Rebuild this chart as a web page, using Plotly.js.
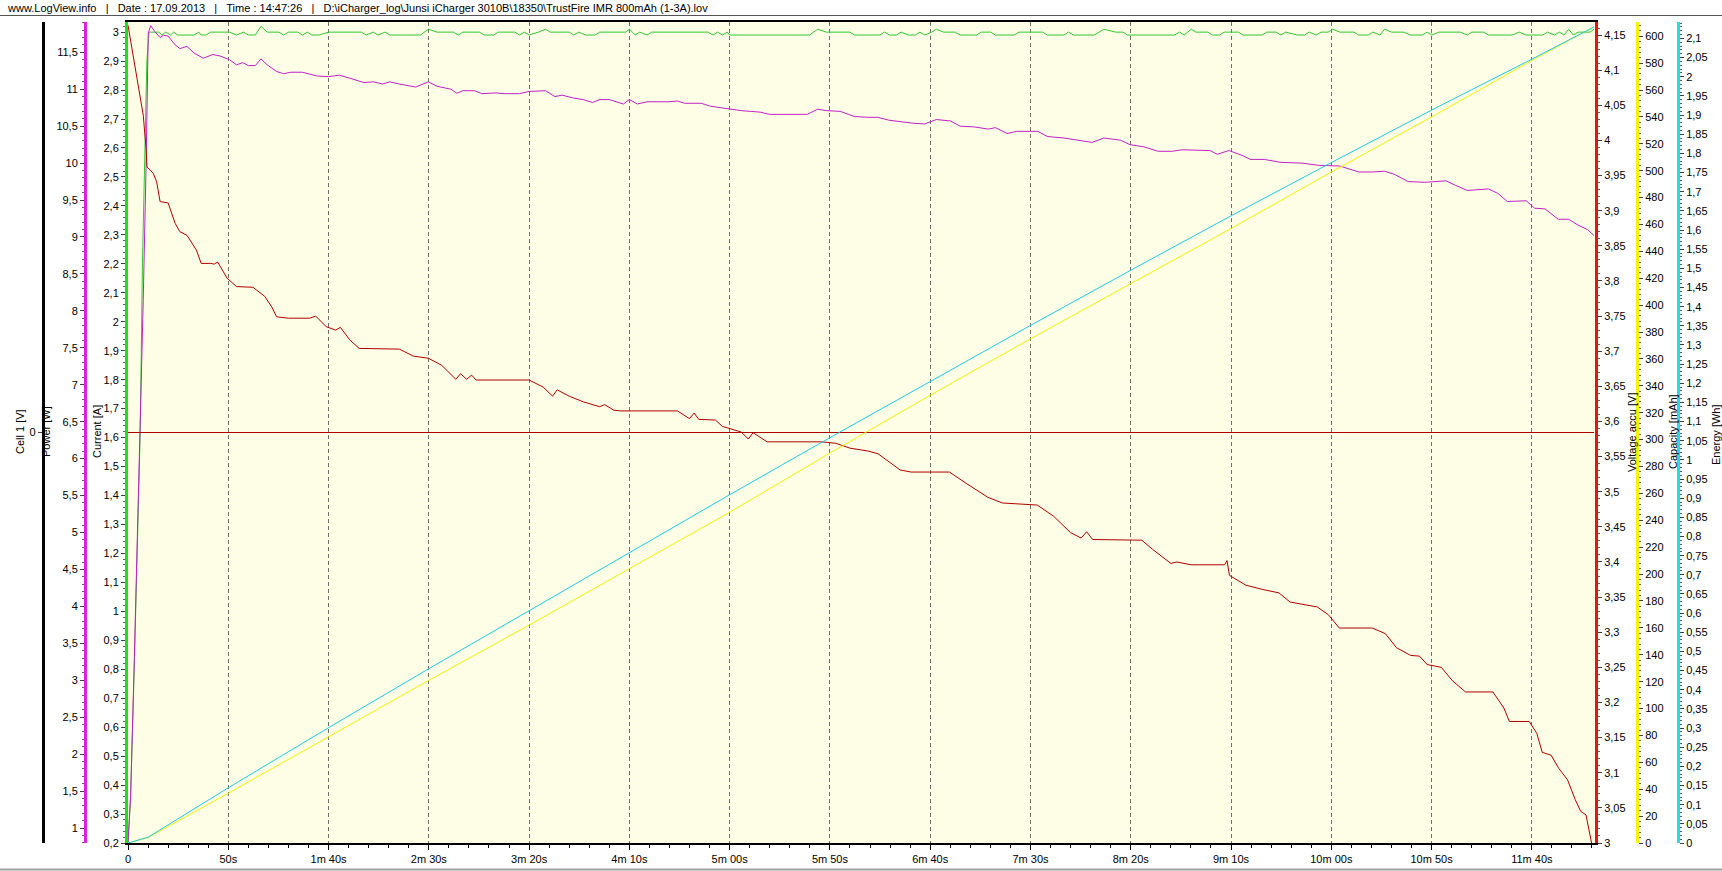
<!DOCTYPE html>
<html><head><meta charset="utf-8">
<script src="https://cdn.plot.ly/plotly-3.0.1.min.js"></script>
<style>html,body{margin:0;padding:0;background:#fff;overflow:hidden}#chart{width:1722px;height:871px}</style>
</head><body><div id="chart"></div>
<script>
const timeTicks = [0,50,100,150,200,250,300,350,400,450,500,550,600,650,700];
const timeLabels = ['0','50s','1m 40s','2m 30s','3m 20s','4m 10s','5m 00s','5m 50s','6m 40s','7m 30s','8m 20s','9m 10s','10m 00s','10m 50s','11m 40s'];

const currentT = [
0,1.3,3.1,4.8,6.1,7.2,8.3,9.4,10.5,11.3,
15.3,16.9,18.8,21.2,22.8,24.7,32.9,35.3,36.5,38.8,
41.2,50.6,54.1,57.6,60,63.5,66.3,69.4,75.3,77.6,
80,84.7,87,89.4,91.7,95.3,100,116.4,118.8,122.3,
124.7,128.2,130.6,145.8,149.8,154.1,162.3,164.7,167,175.3,
177.6,182.3,184.7,192.9,195.2,197.6,200,204.7,208.2,210.5,
220,222.3,224.7,228.2,232.9,235.2,248.2,250.1,252.9,255.2,
258.8,261.1,289.3,291.7,294,296.4,298.8,299.9,339.9,343.9,
348.2,359.9,362.3,374.9,377.3,379.6,383.1,385.5,389,392.6,
394.9,397.3,400.8,403.1,406.7,412.5,414.9,423.1,425.5,430.2,
432.5,442,444.3,456.1,458.4,466.7,469,471.4,481.9,486.6,
492.5,496.1,498.4,521.9,524.3,526.6,530.2,532.5,538.4,540.8,
544.3,546.6,553.7,556,565.5,567.8,572.5,574.9,577.2,583.1,
586.6,589,592.5,594.9,598.4,600.7,604.3,611.3,613.7,618.4,
620.7,624.3,626.6,630.1,636,639.5,645.4,647.8,650.1,653.7,
664.3,667.8,670.1,676,678.4,690.1,693.7,697.2,705.4,707.8,
711.3,713.7,716,718.4,720.7,723.1,729,731];
const currentA = [
0.2,0.36,0.8,1.25,1.62,2.2,2.62,2.9,3.0,3.0,
3.0,2.99,3.0,2.99,3.0,2.99,2.99,3.0,2.99,2.99,
3.0,3.0,2.99,3.0,2.99,2.99,3.02,3.0,3.0,2.99,
3.0,3.0,2.99,3.0,2.99,2.99,3.0,3.0,2.99,3.0,
2.99,3.0,2.99,2.99,3.01,3.0,3.0,2.99,3.0,3.0,
2.99,2.99,3.0,3.0,2.99,3.0,2.99,3.0,3.01,3.0,
3.0,2.99,3.0,2.99,2.99,3.0,3.0,3.01,2.99,3.0,
2.99,3.0,3.0,2.99,3.0,2.99,3.0,2.99,2.99,3.01,
3.0,3.0,2.99,2.99,3.0,2.99,2.99,3.0,2.99,2.99,
3.0,2.99,3.0,3.01,3.0,3.0,2.99,2.99,3.0,3.0,
2.99,2.99,3.0,3.0,2.99,2.99,3.0,2.99,2.99,3.01,
3.0,3.0,2.99,2.99,3.0,2.99,3.01,3.0,3.0,2.99,
2.99,3.0,3.0,2.99,2.99,3.0,3.0,2.99,3.0,2.99,
2.99,3.0,2.99,3.0,3.0,3.01,3.0,3.0,2.99,2.99,
3.0,2.99,3.01,3.0,3.0,2.99,2.99,3.0,2.99,3.0,
3.0,2.99,3.0,3.0,2.99,2.99,3.0,2.99,2.99,3.0,
2.99,3.0,2.99,3.01,2.99,3.0,3.0,3.01];

const powerT = [
0,1.3,3.1,4.8,6.1,7.6,9,10.1,11.3,13.4,
16,17.6,20,23.5,25.9,29.4,32.9,37.6,42.3,45.9,
50.6,54.1,57.2,60,63.5,66.3,69.4,74.1,77.6,81.2,
87,89.4,94.1,100,105.4,110.6,117.6,122.3,127,130.6,
135.3,143.5,149.8,154.1,161.1,164,167,172.9,176.4,183.5,
187,195.2,200,208.2,212.9,216.4,222.3,227,231.7,235.2,
240,247,250,254,258.8,269.3,274,277.6,285.8,290.5,
295.2,299.9,305.8,310.5,315.2,319.9,338.7,343.9,348.2,355.2,
362.3,368.9,373.7,379.6,386.7,391.4,397.3,403.1,410.2,414.9,
422,429,432.5,438.4,443.1,453.7,458.4,466.7,473.7,480.8,
486.6,494.9,499.6,506.6,513.7,520.8,525.5,531.3,539.6,543.1,
549,556,559.6,566.6,574.9,585.4,593.7,604.3,607.8,613.7,
620.7,626.6,631.3,638.4,646.6,657.2,661.9,667.8,678.4,683.1,
687.8,692.5,697.2,701.4,706.6,713.2,718.4,723.1,727.8,731];
const powerW = [
0.8,1.43,3.24,5.04,6.39,8.15,9.95,11.76,11.86,11.78,
11.70,11.73,11.72,11.60,11.55,11.58,11.49,11.42,11.47,11.45,
11.40,11.33,11.36,11.32,11.32,11.41,11.33,11.24,11.21,11.23,
11.23,11.21,11.18,11.17,11.19,11.15,11.09,11.10,11.07,11.10,
11.07,11.03,11.10,11.04,11.00,10.945,10.98,10.98,10.94,10.95,
10.94,10.94,10.97,10.98,10.90,10.92,10.88,10.86,10.82,10.86,
10.86,10.80,10.86,10.80,10.83,10.83,10.84,10.81,10.81,10.77,
10.75,10.73,10.71,10.70,10.69,10.66,10.66,10.73,10.71,10.70,
10.63,10.62,10.62,10.58,10.55,10.54,10.53,10.59,10.57,10.50,
10.49,10.46,10.48,10.40,10.43,10.43,10.36,10.34,10.31,10.28,
10.34,10.31,10.25,10.22,10.16,10.16,10.18,10.18,10.17,10.12,
10.17,10.10,10.05,10.05,10.01,10.00,9.97,9.96,9.93,9.88,
9.88,9.89,9.85,9.75,9.74,9.76,9.70,9.63,9.65,9.59,
9.48,9.48,9.49,9.39,9.38,9.24,9.24,9.16,9.10,9.02];

const voltT = [
0,4.3,7.6,9.0,9.5,11,12.6,14.3,16,20,
21.8,23.5,25.9,29.4,34.1,36.5,41.2,43,44.7,49.4,
54.1,62.3,68.2,71.7,74.1,80,90.6,93.6,98.8,103.5,
105.9,110.6,115.3,135.3,142.3,149.8,156.4,163.5,165.8,168.9,
171.3,173.6,200,207,211.7,214,220,227,235.2,237.6,
242.3,245.8,274,280,282.3,284.6,292.9,296.4,305.8,309.3,
311.7,318.7,345.8,352.9,360,368.9,374,381,385,390.5,
409.6,417.9,428.8,436,453.4,461.6,469.9,475.3,478,481,
505.5,510.9,516.4,520,523,530,546.8,548,549.2,557.4,
565.6,573.9,579.4,593,598.5,604,620.4,627,632.5,639.6,
644,647.8,654.9,660.4,666.9,680.6,686.1,688.8,698.7,702.5,
705.2,709.6,713.5,717.8,721.6,724.4,727,729.8];
const voltV = [
4.164,4.093,4.036,3.989,3.962,3.958,3.953,3.941,3.913,3.911,
3.897,3.882,3.870,3.865,3.844,3.825,3.825,3.824,3.827,3.804,
3.792,3.791,3.778,3.763,3.749,3.747,3.747,3.750,3.735,3.730,
3.734,3.716,3.704,3.703,3.693,3.690,3.680,3.660,3.668,3.660,
3.666,3.659,3.659,3.649,3.636,3.645,3.636,3.628,3.621,3.624,
3.616,3.615,3.615,3.604,3.612,3.603,3.602,3.593,3.585,3.575,
3.584,3.571,3.571,3.569,3.562,3.558,3.554,3.540,3.531,3.528,
3.528,3.512,3.492,3.484,3.481,3.465,3.442,3.434,3.443,3.432,
3.431,3.418,3.406,3.398,3.400,3.396,3.396,3.402,3.381,3.367,
3.361,3.356,3.343,3.336,3.325,3.306,3.306,3.298,3.278,3.267,
3.266,3.254,3.250,3.231,3.215,3.215,3.192,3.173,3.173,3.156,
3.129,3.125,3.106,3.090,3.062,3.045,3.040,3.000];

const capT = [0,10,50,100,150,200,250,300,350,400,450,500,550,600,650,700,731];
const capMah = [0,4,37,79,121,162,204,246,290,333,375,416,457,499,540,582,607];
const energyT = [0,10,50,100,150,200,250,300,350,400,450,500,550,600,650,700,731];
const energyWh = [0,0.015,0.144,0.301,0.455,0.607,0.759,0.909,1.058,1.205,1.351,1.495,1.637,1.776,1.913,2.046,2.13];
const cellT = [0,731];
const cellV = [0,0];

const W = 1722, H = 871;
const PL = 128, PR = 1595, PT = 22, PB = 843;
const px = v => v / W;
const py = v => (PB - v) / (PB - PT);
const FONT = 'Liberation Sans, Arial, sans-serif';
const tf = {family: FONT, size: 11, color: '#000'};

const traces = [
  {x: cellT, y: cellV, yaxis: 'y3', mode: 'lines', line: {color: '#b00000', width: 1}},
  {x: capT, y: capMah, yaxis: 'y5', mode: 'lines', line: {color: '#f2f200', width: 1}},
  {x: energyT, y: energyWh, yaxis: 'y6', mode: 'lines', line: {color: '#20c8e8', width: 1}},
  {x: voltT, y: voltV, yaxis: 'y4', mode: 'lines', line: {color: '#b00000', width: 1}},
  {x: powerT, y: powerW, yaxis: 'y2', mode: 'lines', line: {color: '#c020c8', width: 1}},
  {x: currentT, y: currentA, yaxis: 'y', mode: 'lines', line: {color: '#30c830', width: 1}}
];

function yax(o) {
  return Object.assign({
    showgrid: false, zeroline: false, showline: true, linewidth: 3,
    ticks: 'outside', ticklen: 4, tickcolor: '#404040', tickwidth: 1,
    tickfont: tf, fixedrange: true
  }, o);
}

const layout = {
  width: W, height: H,
  margin: {l: 0, r: 0, t: PT, b: H - PB, pad: 0},
  paper_bgcolor: '#ffffff', plot_bgcolor: '#fefee6',
  separators: ',.',
  showlegend: false,
  font: {family: FONT, size: 11, color: '#000'},
  xaxis: {
    domain: [px(PL), px(PR)], range: [0, 731.5],
    tickvals: timeTicks, ticktext: timeLabels,
    showgrid: true, gridcolor: '#707070', griddash: '4px,3px', gridwidth: 1,
    zeroline: false, showline: true, linecolor: '#000', linewidth: 2, mirror: true,
    ticks: 'outside', ticklen: 5, tickcolor: '#000', tickfont: tf,
    minor: {tickvals: [10,20,30,40,60,70,80,90,110,120,130,140,160,170,180,190,210,220,230,240,260,270,280,290,310,320,330,340,360,370,380,390,410,420,430,440,460,470,480,490,510,520,530,540,560,570,580,590,610,620,630,640,660,670,680,690,710,720,730], ticks: 'outside', ticklen: 3, tickcolor: '#000', showgrid: false},
    fixedrange: true
  },
  yaxis: yax({range: [0.2, 3.035], tick0: 0, dtick: 0.1, linecolor: '#22dd22', anchor: 'x', side: 'left', minor: {ticks: 'outside', ticklen: 2, dtick: 0.02, tickcolor: '#606060', showgrid: false}}),
  yaxis2: yax({range: [0.797, 11.91], tick0: 0, dtick: 0.5, linecolor: '#e020e0', overlaying: 'y', anchor: 'free', position: px(85), side: 'left', minor: {ticks: 'outside', ticklen: 2, dtick: 0.1, tickcolor: '#606060', showgrid: false}}),
  yaxis3: yax({range: [-1, 1], tickvals: [0], linecolor: '#000000', overlaying: 'y', anchor: 'free', position: px(42.7), side: 'left'}),
  yaxis4: yax({range: [3, 4.1686], tick0: 3, dtick: 0.05, linecolor: '#ee1111', overlaying: 'y', anchor: 'x', side: 'right', minor: {ticks: 'outside', ticklen: 2, dtick: 0.01, tickcolor: '#606060', showgrid: false}}),
  yaxis5: yax({range: [0, 610.6], tick0: 0, dtick: 20, linecolor: '#f4f400', overlaying: 'y', anchor: 'free', position: px(1637), side: 'right', minor: {ticks: 'outside', ticklen: 2, dtick: 4, tickcolor: '#606060', showgrid: false}}),
  yaxis6: yax({range: [0, 2.143], tick0: 0, dtick: 0.05, linecolor: '#22dde8', overlaying: 'y', anchor: 'free', position: px(1678), side: 'right', minor: {ticks: 'outside', ticklen: 2, dtick: 0.01, tickcolor: '#606060', showgrid: false}}),
  shapes: [
    {type: 'line', xref: 'paper', yref: 'paper', x0: 0, x1: 1, y0: py(15.5), y1: py(15.5), line: {color: '#555555', width: 1}},
    {type: 'line', xref: 'paper', yref: 'paper', x0: 0, x1: 1, y0: py(869.5), y1: py(869.5), line: {color: '#a0a0a0', width: 2}}
  ],
  annotations: [
    {xref: 'paper', yref: 'paper', x: px(5), y: py(8), xanchor: 'left', yanchor: 'middle', showarrow: false,
     font: {family: FONT, size: 11, color: '#000'},
     text: 'www.LogView.info\u00a0\u00a0\u00a0|\u00a0\u00a0\u00a0Date : 17.09.2013\u00a0\u00a0\u00a0|\u00a0\u00a0\u00a0Time : 14:47:26\u00a0\u00a0\u00a0|\u00a0\u00a0\u00a0D:\\iCharger_log\\Junsi iCharger 3010B\\18350\\TrustFire IMR 800mAh (1-3A).lov'},
    {xref: 'paper', yref: 'paper', x: px(20), y: py(432), textangle: -90, showarrow: false, text: 'Cell 1 [V]', font: tf, xanchor: 'center', yanchor: 'middle'},
    {xref: 'paper', yref: 'paper', x: px(46), y: py(432), textangle: -90, showarrow: false, text: 'Power [W]', font: tf, xanchor: 'center', yanchor: 'middle'},
    {xref: 'paper', yref: 'paper', x: px(97), y: py(432), textangle: -90, showarrow: false, text: 'Current [A]', font: tf, xanchor: 'center', yanchor: 'middle'},
    {xref: 'paper', yref: 'paper', x: px(1632), y: py(432), textangle: -90, showarrow: false, text: 'Voltage accu [V]', font: tf, xanchor: 'center', yanchor: 'middle'},
    {xref: 'paper', yref: 'paper', x: px(1673), y: py(432), textangle: -90, showarrow: false, text: 'Capacity [mAh]', font: tf, xanchor: 'center', yanchor: 'middle'},
    {xref: 'paper', yref: 'paper', x: px(1716), y: py(435), textangle: -90, showarrow: false, text: 'Energy [Wh]', font: tf, xanchor: 'center', yanchor: 'middle'}
  ]
};

Plotly.newPlot('chart', traces, layout, {displayModeBar: false, staticPlot: true});
</script>
</body></html>
